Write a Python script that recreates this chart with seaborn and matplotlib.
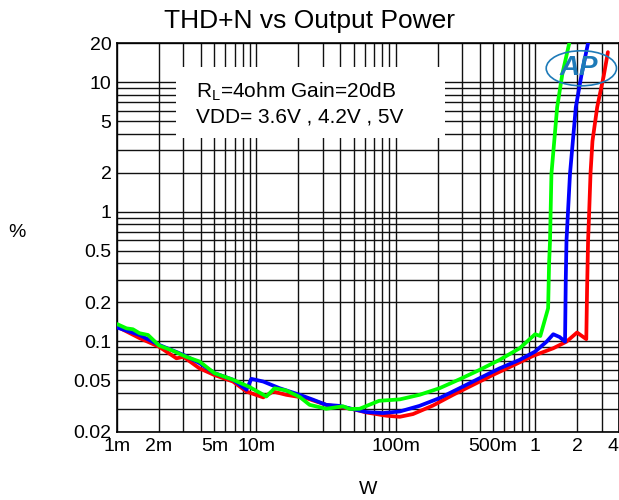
import matplotlib
matplotlib.use("Agg")
import matplotlib.pyplot as plt
import numpy as np
import pandas as pd
import seaborn as sns
from matplotlib.patches import Rectangle, Ellipse
from matplotlib.ticker import FixedLocator, FixedFormatter, LogLocator, NullFormatter

# THD+N (%) vs output power (W)
x_5v = [0.001, 0.00145, 0.002, 0.00267, 0.003, 0.0039, 0.005, 0.0068, 0.0085,
        0.0112, 0.0132, 0.0164, 0.0228, 0.0317, 0.0494, 0.0615, 0.0857, 0.107,
        0.133, 0.185, 0.258, 0.359, 0.50, 0.695, 0.968, 1.35, 1.68, 2.0, 2.33,
        2.36, 2.40, 2.44, 2.50, 2.58, 2.79, 2.92, 3.1, 3.33]
y_5v = [0.130, 0.106, 0.091, 0.074, 0.076, 0.062, 0.055, 0.049, 0.041,
        0.037, 0.041, 0.0387, 0.0365, 0.0324, 0.030, 0.0283, 0.0267, 0.0262,
        0.0275, 0.032, 0.0387, 0.0462, 0.0552, 0.0652, 0.0773, 0.0885, 0.0995, 0.117, 0.104,
        0.25, 0.6, 0.95, 2.0, 3.5, 6.4, 8.1, 11.0, 17.0]

x_42v = [0.001, 0.00145, 0.002, 0.003, 0.0039, 0.005, 0.0068, 0.0085, 0.0092,
         0.0112, 0.0147, 0.0205, 0.0255, 0.0317, 0.0395, 0.0494, 0.0615, 0.081,
         0.107, 0.148, 0.206, 0.287, 0.40, 0.556, 0.775, 1.0, 1.21, 1.35, 1.50,
         1.64, 1.66, 1.68, 1.78, 1.96, 2.16, 2.40]
y_42v = [0.128, 0.112, 0.094, 0.0787, 0.068, 0.0569, 0.0506, 0.0424, 0.0514,
         0.049, 0.0435, 0.0387, 0.0355, 0.0324, 0.0318, 0.030, 0.0285, 0.028,
         0.0288, 0.0318, 0.0365, 0.0435, 0.052, 0.0619, 0.072, 0.0834, 0.0995, 0.1135, 0.108,
         0.0995, 0.3, 0.6, 1.96, 6.4, 11.6, 20.0]

x_36v = [0.001, 0.00117, 0.0013, 0.00145, 0.00167, 0.002, 0.00252, 0.00314,
         0.0039, 0.005, 0.0068, 0.00895, 0.0118, 0.0135, 0.0164, 0.0205, 0.0241,
         0.0317, 0.0418, 0.0467, 0.055, 0.076, 0.107, 0.148, 0.206, 0.287, 0.40,
         0.556, 0.775, 1.0, 1.09, 1.24, 1.26, 1.28, 1.31, 1.44, 1.57, 1.76]
y_36v = [0.136, 0.126, 0.124, 0.1156, 0.112, 0.093, 0.0846, 0.076,
         0.070, 0.0569, 0.0506, 0.0444, 0.0376, 0.0435, 0.0418, 0.0372, 0.0324,
         0.0302, 0.0316, 0.0301, 0.0302, 0.0348, 0.0357, 0.0387, 0.0435, 0.051, 0.0603,
         0.072, 0.0885, 0.1135, 0.110, 0.18, 0.4, 0.6, 1.96, 6.4, 11.6, 20.0]

x_ticks = [0.001, 0.002, 0.005, 0.01, 0.1, 0.5, 1, 2, 4]
x_labels = ["1m", "2m", "5m", "10m", "100m", "500m", "1", "2", "4"]
y_ticks = [0.02, 0.05, 0.1, 0.2, 0.5, 1, 2, 5, 10, 20]
y_labels = ["0.02", "0.05", "0.1", "0.2", "0.5", "1", "2", "5", "10", "20"]

series = {"5V": (x_5v, y_5v), "4.2V": (x_42v, y_42v), "3.6V": (x_36v, y_36v)}
palette = {"5V": "#ff0000", "4.2V": "#0000ff", "3.6V": "#00ff00"}

df = pd.concat(
    [pd.DataFrame({"W": xs, "THD": ys, "VDD": name}) for name, (xs, ys) in series.items()],
    ignore_index=True,
)

sns.set_theme(style="white")
plt.rcParams["font.family"] = ["Liberation Sans", "DejaVu Sans"]
plt.rcParams["mathtext.fontset"] = "custom"
plt.rcParams["mathtext.rm"] = "Liberation Sans"
plt.rcParams["text.color"] = "black"
plt.rcParams["axes.labelcolor"] = "black"

fig = plt.figure(figsize=(6.19, 5.0), dpi=100)
ax = fig.add_axes([117 / 619, 68 / 500, 502 / 619, 389 / 500])

sns.lineplot(data=df, x="W", y="THD", hue="VDD", palette=palette, sort=False,
             estimator=None, linewidth=2.7, legend=False, ax=ax, zorder=3)

ax.set_xscale("log")
ax.set_yscale("log")
ax.set_xlim(0.001, 4)
ax.set_ylim(0.02, 20)

ax.xaxis.set_major_locator(FixedLocator(x_ticks))
ax.xaxis.set_major_formatter(FixedFormatter(x_labels))
ax.yaxis.set_major_locator(FixedLocator(y_ticks))
ax.yaxis.set_major_formatter(FixedFormatter(y_labels))
ax.xaxis.set_minor_locator(LogLocator(base=10, subs=np.arange(1, 10)))
ax.yaxis.set_minor_locator(LogLocator(base=10, subs=np.arange(1, 10)))
ax.xaxis.set_minor_formatter(NullFormatter())
ax.yaxis.set_minor_formatter(NullFormatter())
ax.tick_params(which="both", length=0, labelsize=14, colors="black", pad=4)
# last x label sits at the figure edge, pull it inside
for lbl in ax.get_xticklabels():
    if lbl.get_text() == "4":
        lbl.set_horizontalalignment("right")

ax.set_axisbelow(True)
ax.grid(True, which="both", color="#111111", linewidth=1.0)
for side in ax.spines.values():
    side.set_color("black")
    side.set_linewidth(1.2)

ax.set_xlabel("W", fontsize=14)
ax.xaxis.set_label_coords(0.5, -0.125)
ax.set_ylabel("%", fontsize=14, rotation=0)
ax.yaxis.set_label_coords(-0.2, 0.49)

fig.text(0.5, 0.958, "THD+N vs Output Power", ha="center", va="center", fontsize=19)

# white label box over the grid
ax.add_patch(Rectangle((0.1175, 0.757), 0.535, 0.182, transform=ax.transAxes,
                       facecolor="white", edgecolor="none", zorder=1.5))
ax.text(0.157, 0.875, "R$_\\mathrm{L}$=4ohm Gain=20dB", transform=ax.transAxes,
        fontsize=15, va="center", zorder=2)
ax.text(0.157, 0.81, "VDD= 3.6V , 4.2V , 5V", transform=ax.transAxes,
        fontsize=15, va="center", zorder=2)

# logo
ax.text(0.92, 0.935, "AP", transform=ax.transAxes, fontsize=20, fontstyle="italic",
        fontweight="bold", color="#1d7ab8", ha="center", va="center", zorder=4)
ax.add_patch(Ellipse((0.925, 0.935), 0.14, 0.09, transform=ax.transAxes,
                     facecolor="none", edgecolor="#1d7ab8", linewidth=1.2, zorder=4))

fig.savefig("out.png", dpi=100)
